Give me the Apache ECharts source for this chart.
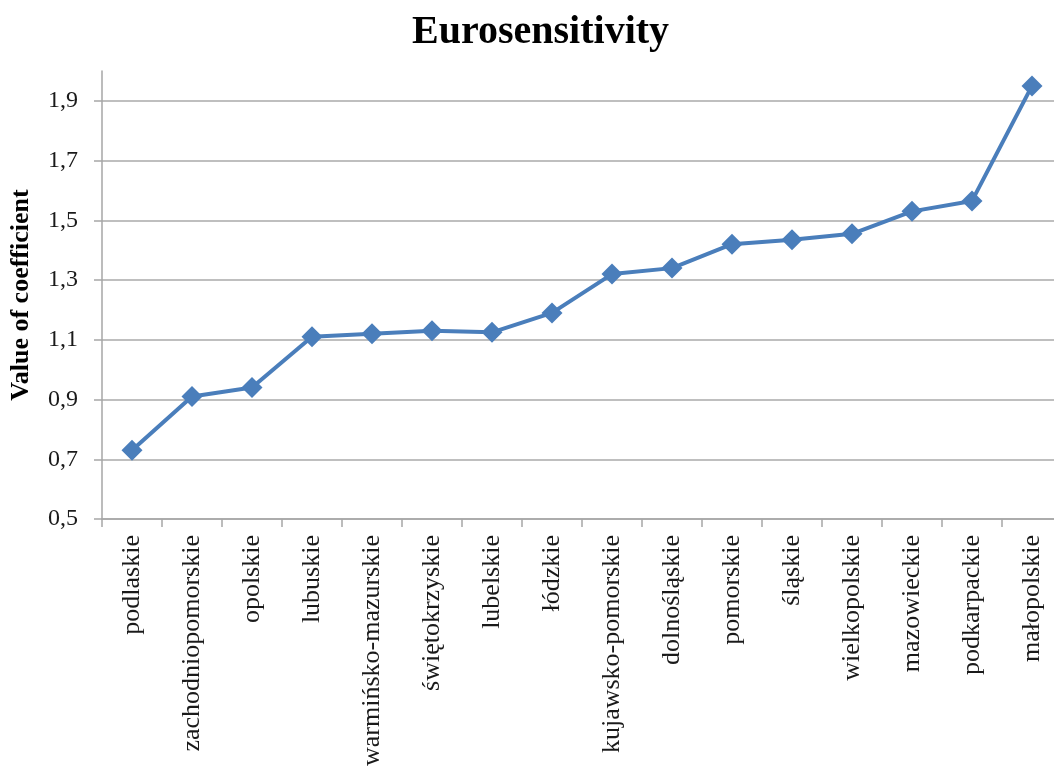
<!DOCTYPE html>
<html>
<head>
<meta charset="utf-8">
<title>Eurosensitivity</title>
<script src="https://cdn.jsdelivr.net/npm/echarts@6/dist/echarts.min.js"></script>
<style>
  html, body { margin: 0; padding: 0; background: #ffffff; overflow: hidden; }
  #chart { width: 1062px; height: 771px; }
</style>
</head>
<body>
<div id="chart"></div>
<script>
// Voivodeships, ordered by coefficient
const regions = [
  'podlaskie', 'zachodniopomorskie', 'opolskie', 'lubuskie',
  'warmińsko-mazurskie', 'świętokrzyskie', 'lubelskie', 'łódzkie',
  'kujawsko-pomorskie', 'dolnośląskie', 'pomorskie', 'śląskie',
  'wielkopolskie', 'mazowieckie', 'podkarpackie', 'małopolskie'
];

// Eurosensitivity coefficient per voivodeship
const coefficient = [
  0.73, 0.91, 0.94, 1.11,
  1.12, 1.13, 1.125, 1.19,
  1.32, 1.34, 1.42, 1.435,
  1.455, 1.53, 1.565, 1.95
];

// Value axis range and step
const yMin = 0.5;
const yMax = 2.0;
const yStep = 0.2;

const serif = '"Liberation Serif", "Times New Roman", serif';
const lineBlue = '#4a7ebb';

// Gridline colours: one per tick, the top (max) line hidden
const gridColors = ['#bfbfbf', '#bfbfbf', '#bfbfbf', '#bfbfbf', '#bfbfbf',
                    '#bfbfbf', '#bfbfbf', '#bfbfbf', 'rgba(0,0,0,0)'];

const chart = echarts.init(document.getElementById('chart'), null, { renderer: 'canvas' });

chart.setOption({
  backgroundColor: '#ffffff',
  animation: false,
  title: {
    text: 'Eurosensitivity',
    left: 412,
    top: 13,
    padding: 0,
    textStyle: { fontFamily: serif, fontWeight: 'bold', fontSize: 40, color: '#000' }
  },
  grid: { left: 101, right: 0, top: 71, bottom: 252, containLabel: false },
  xAxis: {
    type: 'category',
    data: regions,
    boundaryGap: true,
    axisLine: { show: true, lineStyle: { color: '#a6a6a6', width: 1.5 } },
    axisTick: { show: true, alignWithLabel: false, length: 8, lineStyle: { color: '#a6a6a6', width: 1.5 } },
    axisLabel: {
      rotate: 90,
      interval: 0,
      margin: 16,
      fontFamily: serif,
      fontSize: 26,
      color: '#1a1a1a'
    }
  },
  yAxis: {
    type: 'value',
    min: yMin,
    max: yMax,
    interval: yStep,
    name: 'Value of coefficient',
    nameLocation: 'middle',
    nameGap: 68,
    nameRotate: 90,
    nameTextStyle: { fontFamily: serif, fontWeight: 'bold', fontSize: 26, color: '#000' },
    axisLine: { show: true, lineStyle: { color: '#a6a6a6', width: 1.5 } },
    axisTick: { show: true, length: 8, lineStyle: { color: '#a6a6a6', width: 1.5 } },
    axisLabel: {
      showMaxLabel: false,
      margin: 24,
      fontFamily: serif,
      fontSize: 24,
      color: '#1a1a1a',
      formatter: v => v.toFixed(1).replace('.', ',')
    },
    splitLine: { show: true, lineStyle: { color: gridColors, width: 2 } }
  },
  series: [{
    type: 'line',
    data: coefficient,
    symbol: 'diamond',
    symbolSize: 21,
    lineStyle: { color: lineBlue, width: 4 },
    itemStyle: { color: lineBlue },
    z: 5
  }]
});
</script>
</body>
</html>
